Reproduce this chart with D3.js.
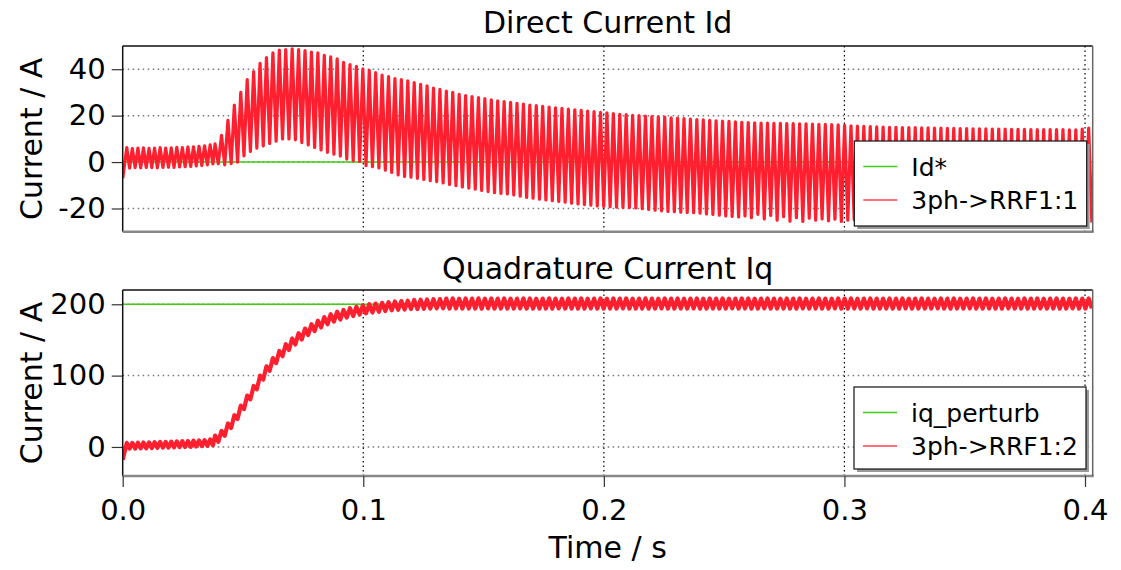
<!DOCTYPE html>
<html><head><meta charset="utf-8">
<script src="https://cdn.jsdelivr.net/npm/d3@7"></script>
<style>
body{margin:0;background:#fff}
svg{display:block}
text{font-family:'DejaVu Sans',Verdana,sans-serif;fill:#000}
</style>
</head><body>
<svg id="c" width="1121" height="570"></svg>
<script>
// ---------------- data ----------------
const xTicks = [0, 0.1, 0.2, 0.3, 0.4];
const idTicks = [-20, 0, 20, 40];
const iqTicks = [0, 100, 200];
const titles = ["Direct Current Id", "Quadrature Current Iq"];
const yLabel = "Current / A";
const xLabel = "Time / s";
const legendTop = ["Id*", "3ph->RRF1:1"];
const legendBottom = ["iq_perturb", "3ph->RRF1:2"];

const idRef = 0;      // Id* setpoint
const iqRef = 200;    // iq_perturb setpoint
const tEnd = 0.4032;

// oscillation timing (s): start-up segment and main segment
const segA = {start: 0.0017, period: 0.00231};
const segB = {start: 0.0384, period: 0.00267};

// Id : first sample, then per-cycle peaks / troughs
const idFirst = -7;
const idPeaksA = [6.2,5.8,6.0,6.1,5.9,6.0,6.2,6.0,6.1,6.3,6.2,6.5,6.6,6.8,7.0,7.4];
const idTroughsA = [-2.6,-2.4,-2.5,-2.3,-2.4,-2.5,-2.3,-2.2,-2.3,-2.1,-2.0,-1.9,-1.7,-1.5,-1.2,-0.8];
const idPeaksB = [
 7.8,11.5,18,24.5,30,35.5,39,42.5,45,47,
 48.2,48.5,48.8,48.4,48,47.4,47,46,45.3,44.5,
 43,42,41.2,40.2,39.5,38.5,37.5,36.8,36,35.5,
 35,34.2,33.5,32.8,31.9,31.3,30.6,30,29.2,28.6,
 28.2,27.8,27.3,26.8,26.4,26.1,25.7,25.3,25,24.5,
 24.3,24,23.7,23.4,23.1,22.8,22.5,22.3,22,21.7,
 21.4,21.2,20.9,20.6,20.4,20.1,20,19.8,19.6,19.5,
 19.4,19.1,18.9,18.7,18.5,18.3,18.2,18,17.8,17.6,
 17.5,17.3,17.1,17,16.9,16.8,16.8,16.7,16.7,16.6,
 16.6,16.5,16.5,16.4,16.3,16.2,16.1,16,15.8,15.6,
 15.5,15.4,15.3,15.2,15.1,15,15,14.9,14.8,14.8,
 14.7,14.7,14.6,14.6,14.5,14.5,14.4,14.4,14.3,14.3,
 14.3,14.2,14.2,14.2,14.1,14.1,14.1,14,14,14,
 14,14,14,13.9,13.9,14.2,14.6];
const idTroughsB = [
 -0.7,-1.2,-0.7,0,2.7,4.6,6,7,8,9,
 10,10,9.6,8.4,7.4,6.3,5.2,4.2,3.4,2.6,
 1.3,0.6,0.3,-1.5,-2,-2.5,-3.5,-4.5,-5.5,-6.2,
 -6.5,-7,-7.5,-8,-8.4,-9,-9.6,-10.2,-10.7,-11.2,
 -11.7,-12.2,-12.7,-13.2,-13.5,-13.7,-14.2,-14.7,-15.2,-15.6,
 -16,-16.3,-16.6,-17,-17.3,-17.7,-18,-18.3,-18.6,-18.9,
 -19.1,-19.2,-19.4,-19.5,-19.6,-19.8,-20.1,-20.4,-20.7,-21,
 -21.3,-21.4,-21.6,-21.7,-21.8,-22,-22.3,-22.6,-22.9,-23.2,
 -23.4,-23.6,-23.2,-24,-22.5,-24.5,-23,-25,-23.5,-25.5,
 -24,-25.6,-24.2,-25,-24.5,-25.3,-24.6,-25.6,-25,-24.8,
 -25.2,-24.6,-25.5,-25,-24.8,-25.4,-25,-25.6,-24.9,-25.3,
 -25,-25.5,-24.8,-25.2,-25.6,-25,-25.3,-24.9,-25.5,-25.1,
 -25.4,-25,-25.6,-25.2,-25,-25.5,-25.3,-25.7,-25.1,-25.5,
 -25.2,-25.6,-25.3,-25.8,-25.4,-25.6,-26];

// Iq : first sample, then per-cycle peaks / troughs
const iqFirst = -18;
const iqPeaksA = [5.6,5.8,6.0,6.2,6.5,6.7,7.0,7.2,7.5,7.7,8.0,8.3,8.7,9.1,9.6,10.4];
const iqTroughsA = [-2.4,-2.2,-2.0,-1.8,-1.5,-1.3,-1.0,-0.8,-0.5,-0.3,0,0.3,0.7,1.1,1.6,2.4];
const iqPeaksB = [
 16,22.5,33,44.5,58,72,85.5,100,113,124.5,
 134.5,144,152,159.5,166,172,177,182,186,189.5,
 192,194.5,196.5,198.5,200,201,202,203,204,204.5,
 205,206,206.5,206.8,207.1,207.3,
 208,208.2,207.9,208.1,208,208.3,207.8,208.1,208,208.2,
 207.9,208,208.2,208.1,207.8,208,208.3,208,207.9,208.1,
 208,208.2,207.9,208,208.1,207.8,208.2,208,208.1,207.9,
 208,208.3,208,207.9,208.1,208,208.2,207.8,208,208.1,
 207.9,208.2,208,208.1,207.8,208,208.2,208.1,207.9,208,
 208.1,208,207.8,208.2,208,208.1,207.9,208,208.2,208,
 207.9,208.1,208,208.2,207.8,208,208.1,208,207.9,208.2,
 208,208.1,207.9,208,208.2,208,207.8,208.1,208,208.2,
 207.9,208,208.1,208,208.2,207.8,208,208.1,208,207.9,
 208.2,208,208.1,207.9,208,208.2,208,207.8,208.1,208,208.2];
const iqTroughsB = [
 7.2,15.7,26.7,39.2,53,66.7,80.7,94.5,106.7,117.5,
 127.2,136,143.7,150.7,157,162.5,167.5,172,175.7,178.7,
 181.2,183.5,185.5,187.2,188.5,189.5,190.5,191.5,192.2,192.7,
 193.2,193.2,193.6,193.9,194.2,194.4,
 194,194.2,193.9,194.1,194,193.8,194.2,194,194.1,193.9,
 194,194.2,194,193.9,194.1,194,193.8,194.2,194,194.1,
 193.9,194,194.2,194,193.8,194.1,194,194.2,193.9,194,
 194.1,193.8,194,194.2,194,193.9,194.1,194,194.2,193.8,
 194,194.1,194,193.9,194.2,194,194.1,193.8,194,194.2,
 193.9,194,194.1,194,193.8,194.2,194,194.1,193.9,194,
 194.2,194,193.8,194.1,194,194.2,193.9,194,194.1,194,
 193.8,194.2,194,194.1,193.9,194,194.2,194,193.8,194.1,
 194,194.2,193.9,194,194.1,194,193.8,194.2,194,194.1,
 193.9,194,194.2,194,194.1,193.8,194,194.2,194,193.9,194.1];

// ---------------- build ----------------
function buildSeries(first, pA, tA, pB, tB) {
  const pts = [[0, first]];
  pA.forEach((v, i) => {
    pts.push([segA.start + i * segA.period, v]);
    pts.push([segA.start + (i + 0.5) * segA.period, tA[i]]);
  });
  pB.forEach((v, k) => {
    pts.push([segB.start + k * segB.period, v]);
    pts.push([segB.start + (k + 0.5) * segB.period, tB[k]]);
  });
  return pts;
}
const idData = buildSeries(idFirst, idPeaksA, idTroughsA, idPeaksB, idTroughsB);
const iqData = buildSeries(iqFirst, iqPeaksA, iqTroughsA, iqPeaksB, iqTroughsB);

const svg = d3.select("#c");
const L = 122.7, R = 1092.7;
const x = d3.scaleLinear().domain([0, tEnd]).range([L, R]);
const panels = [
  {top: 46, bottom: 231.7, y: d3.scaleLinear().domain([-30, 50]).range([231.7, 46]),
   ticks: idTicks, data: idData, ref: idRef, title: titles[0], titleY: 33, legend: legendTop,
   leg: {x: 854.3, y: 141, w: 232.4, h: 85}, xAxis: false, sw: 3.2},
  {top: 290, bottom: 476, y: d3.scaleLinear().domain([-40.7, 220]).range([476, 290]),
   ticks: iqTicks, data: iqData, ref: iqRef, title: titles[1], titleY: 279, legend: legendBottom,
   leg: {x: 854, y: 387, w: 232, h: 82}, xAxis: true, sw: 4.2}
];

const RED = "#ff1f2e", GREEN = "#3ccf12";

panels.forEach((p, pi) => {
  const g = svg.append("g");
  const clipId = "clip" + pi;
  svg.append("clipPath").attr("id", clipId).append("rect")
    .attr("x", L).attr("y", p.top).attr("width", R - L).attr("height", p.bottom - p.top);

  // grid
  g.selectAll(".hg").data(p.ticks).join("line")
    .attr("x1", L).attr("x2", R).attr("y1", d => p.y(d)).attr("y2", d => p.y(d))
    .attr("stroke", "#777").attr("stroke-width", 1.5).attr("stroke-dasharray", "1.5,3.5");
  g.selectAll(".vg").data(xTicks.filter(d => d > 0)).join("line")
    .attr("x1", d => x(d)).attr("x2", d => x(d)).attr("y1", p.top).attr("y2", p.bottom)
    .attr("stroke", "#000").attr("stroke-width", 1.2).attr("stroke-dasharray", "1.5,3");

  // y axis ticks
  const ya = d3.axisLeft(p.y).tickValues(p.ticks).tickSize(11).tickPadding(6).tickFormat(d => String(d));
  const yg = g.append("g").attr("transform", `translate(${L},0)`).call(ya);
  yg.select(".domain").remove();
  yg.selectAll("line").attr("stroke", "#333").attr("stroke-width", 1.2);
  yg.selectAll("text").attr("font-size", 29).attr("font-family", "'DejaVu Sans',Verdana,sans-serif").attr("fill", "#000");

  // series
  const line = d3.line().x(d => x(d[0])).y(d => p.y(d[1]));
  g.append("path").datum([[0, p.ref], [tEnd, p.ref]]).attr("d", line)
    .attr("fill", "none").attr("stroke", GREEN).attr("stroke-width", 1.6).attr("clip-path", `url(#${clipId})`);
  g.append("path").datum(p.data).attr("d", line)
    .attr("fill", "none").attr("stroke", RED).attr("stroke-width", p.sw)
    .attr("stroke-linejoin", "round").attr("clip-path", `url(#${clipId})`);

  // frame
  g.append("line").attr("x1", L).attr("x2", R).attr("y1", p.top).attr("y2", p.top).attr("stroke", "#111").attr("stroke-width", 1.5);
  g.append("line").attr("x1", L).attr("x2", L).attr("y1", p.top).attr("y2", p.bottom).attr("stroke", "#111").attr("stroke-width", 1.5);
  g.append("line").attr("x1", L).attr("x2", R + 1).attr("y1", p.bottom).attr("y2", p.bottom).attr("stroke", "#888").attr("stroke-width", 2.5);
  g.append("line").attr("x1", R).attr("x2", R).attr("y1", p.top).attr("y2", p.bottom).attr("stroke", "#666").attr("stroke-width", 1.5);

  // title
  g.append("text").attr("x", (L + R) / 2).attr("y", p.titleY).attr("text-anchor", "middle")
    .attr("font-size", 30).text(p.title);
  // y label
  g.append("text").attr("transform", `translate(42,${(p.top + p.bottom) / 2}) rotate(-90)`)
    .attr("text-anchor", "middle").attr("font-size", 30).text(yLabel);

  // legend
  const lg = g.append("g");
  lg.append("rect").attr("x", p.leg.x + 3).attr("y", p.leg.y + 3).attr("width", p.leg.w).attr("height", p.leg.h)
    .attr("fill", "#999");
  lg.append("rect").attr("x", p.leg.x).attr("y", p.leg.y).attr("width", p.leg.w).attr("height", p.leg.h)
    .attr("fill", "#fff").attr("stroke", "#111").attr("stroke-width", 1.2);
  const rowY = [p.leg.y + 25.5, p.leg.y + 59];
  [GREEN, "#ff4050"].forEach((c, i) => {
    lg.append("line").attr("x1", p.leg.x + 9).attr("x2", p.leg.x + 43).attr("y1", rowY[i]).attr("y2", rowY[i])
      .attr("stroke", c).attr("stroke-width", 1.6);
    lg.append("text").attr("x", p.leg.x + 57).attr("y", rowY[i] + 9).attr("font-size", 25).text(p.legend[i]);
  });

  if (p.xAxis) {
    const xa = d3.axisBottom(x).tickValues(xTicks).tickSize(11).tickPadding(12).tickFormat(d3.format(".1f"));
    const xg = g.append("g").attr("transform", `translate(0,${p.bottom})`).call(xa);
    xg.select(".domain").remove();
    xg.selectAll("line").attr("stroke", "#333").attr("stroke-width", 1.2);
    xg.selectAll("text").attr("font-size", 29).attr("font-family", "'DejaVu Sans',Verdana,sans-serif").attr("fill", "#000");
    g.append("text").attr("x", (L + R) / 2).attr("y", 558).attr("text-anchor", "middle")
      .attr("font-size", 30).text(xLabel);
  }
});
</script>
</body></html>
